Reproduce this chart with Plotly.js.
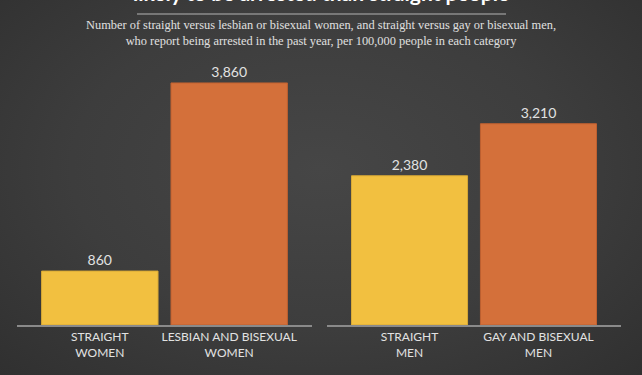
<!DOCTYPE html>
<html>
<head>
<meta charset="utf-8">
<script src="https://cdn.plot.ly/plotly-3.0.1.min.js"></script>
<style>
html,body{margin:0;padding:0;}
body{width:642px;height:375px;overflow:hidden;background:radial-gradient(ellipse at 50% 45%, #464646 0%, #3d3d3d 55%, #303030 100%);}
#chart{width:642px;height:375px;}
</style>
</head>
<body>
<div id="chart"></div>
<script>
// Data
const womenCategories = ["Straight women", "Lesbian and bisexual women"];
const womenValues = [860, 3860];
const womenTickLabels = ["STRAIGHT<br>WOMEN", "LESBIAN AND BISEXUAL<br>WOMEN"];
const menCategories = ["Straight men", "Gay and bisexual men"];
const menValues = [2380, 3210];
const menTickLabels = ["STRAIGHT<br>MEN", "GAY AND BISEXUAL<br>MEN"];
const barColors = ["#f2c040", "#d4703a"];
const lineColors = ["#d9a935", "#bf6030"];
const titleText = "likely to be arrested than straight people";
const subtitleText = "Number of straight versus lesbian or bisexual women, and straight versus gay or bisexual men,<br>who report being arrested in the past year, per 100,000 people in each category";
const footerText = "INDIVIDUALS ARRESTED IN THE PAST YEAR, PER 100,000";

const fmt = v => v.toLocaleString("en-US");
const labelFont = {family: "Lato, 'Noto Sans', sans-serif", size: 14, color: "#e2e2e2"};

const traces = [
  {
    type: "bar", x: womenCategories, y: womenValues, xaxis: "x", yaxis: "y",
    width: 0.9, marker: {color: barColors, line: {color: lineColors, width: 1}},
    text: womenValues.map(fmt), textposition: "outside", cliponaxis: false,
    textfont: labelFont, hoverinfo: "skip"
  },
  {
    type: "bar", x: menCategories, y: menValues, xaxis: "x2", yaxis: "y2",
    width: 0.9, marker: {color: barColors, line: {color: lineColors, width: 1}},
    text: menValues.map(fmt), textposition: "outside", cliponaxis: false,
    textfont: labelFont, hoverinfo: "skip"
  }
];

const xCommon = {
  type: "category", range: [-0.64, 1.64], showgrid: false, zeroline: false,
  showline: true, linecolor: "#8a8a8a", linewidth: 1.5, ticks: "",
  tickfont: {family: "Lato, 'Noto Sans', sans-serif", size: 12, color: "#e2e2e2"},
  fixedrange: true
};
const yCommon = {range: [0, 4226], showgrid: false, zeroline: false, showline: false, showticklabels: false, fixedrange: true};

const layout = {
  width: 642, height: 375,
  margin: {l: 0, r: 0, t: 60, b: 50},
  paper_bgcolor: "rgba(0,0,0,0)", plot_bgcolor: "rgba(0,0,0,0)",
  showlegend: false,
  xaxis: Object.assign({}, xCommon, {domain: [17/642, 312/642], anchor: "y", tickvals: womenCategories, ticktext: womenTickLabels}),
  xaxis2: Object.assign({}, xCommon, {domain: [327/642, 621/642], anchor: "y2", tickvals: menCategories, ticktext: menTickLabels}),
  yaxis: Object.assign({}, yCommon, {anchor: "x"}),
  yaxis2: Object.assign({}, yCommon, {anchor: "x2"}),
  shapes: [
    {type: "line", xref: "paper", yref: "paper", x0: 137/642, x1: 506/642, y0: (325-14)/265, y1: (325-14)/265,
     line: {color: "#8c8c8c", width: 1.5}}
  ],
  annotations: [
    {xref: "paper", yref: "paper", x: 0.5, y: (325-7)/265, xanchor: "center", yanchor: "bottom",
     text: titleText, showarrow: false,
     font: {family: "Lato, 'Noto Sans', sans-serif", size: 21, color: "#ffffff", weight: "bold"}},
    {xref: "paper", yref: "paper", x: 0.5, y: (325-33)/265, xanchor: "center", yanchor: "middle",
     text: subtitleText, showarrow: false,
     font: {family: "'Liberation Serif', 'DejaVu Serif', serif", size: 12.4, color: "#e0e0e0"}},
    {xref: "paper", yref: "paper", x: 0.5, y: (325-379)/265, xanchor: "center", yanchor: "middle",
     text: footerText, showarrow: false,
     font: {family: "Lato, 'Noto Sans', sans-serif", size: 11, color: "#cfcfcf"}}
  ]
};

Plotly.newPlot("chart", traces, layout, {displayModeBar: false, staticPlot: true});
</script>
</body>
</html>
